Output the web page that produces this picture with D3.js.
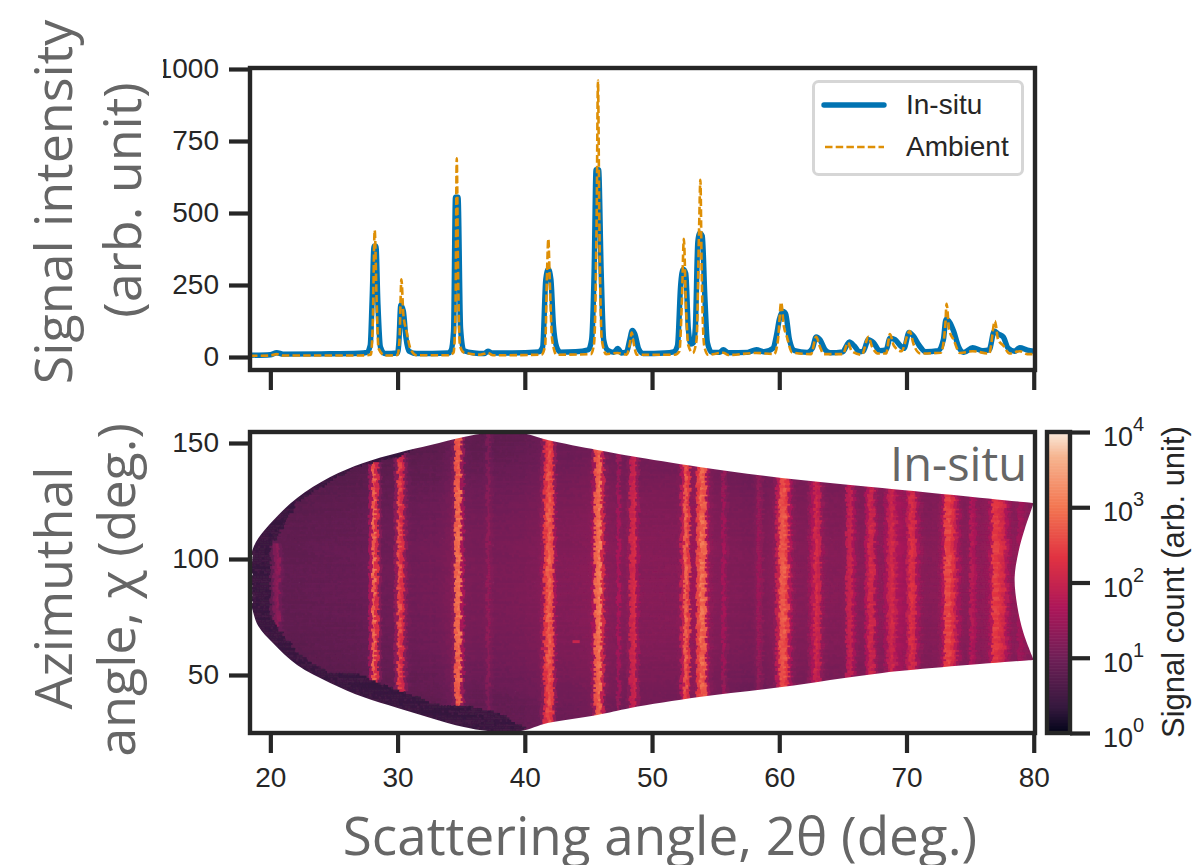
<!DOCTYPE html>
<html>
<head>
<meta charset="utf-8">
<style>
  html, body { margin: 0; padding: 0; background: #fff; }
  svg { display: block; }
  .tick text { font-family: "Liberation Sans", Arial, sans-serif; fill: #262626; }
</style>
<script src="https://cdn.jsdelivr.net/npm/d3@7"></script>
</head>
<body>
<div id="chart"></div>
<script>
// In-situ pattern
var insituX = [18.4,20,20.5,21,24,27,27.6,27.85,28,28.15,28.3,28.45,28.65,29,30,30.1,30.25,30.45,30.65,30.9,31.5,34,34.2,34.4,34.55,34.75,34.95,35.2,36,36.8,37.1,37.4,39,41.1,41.4,41.65,41.85,42.05,42.25,42.5,42.8,44,45,45.25,45.45,45.6,45.8,46,46.2,46.5,47,47.3,47.6,48,48.25,48.45,48.65,48.95,49.3,51,51.7,52,52.25,52.45,52.65,52.85,53.05,53.25,53.4,53.6,53.75,53.95,54.15,54.35,54.7,55.3,55.6,56,57.5,58.2,58.8,59.5,59.8,60,60.3,60.5,60.8,61.2,62.2,62.6,62.9,63.2,63.6,64,65,65.3,65.5,65.9,66.3,66.6,67,67.4,67.9,68.4,68.7,69.1,69.5,69.8,70.2,70.5,71,71.5,72.5,72.9,73.1,73.4,73.7,74.1,74.5,75.2,76,76.5,76.9,77.2,77.6,78,78.5,78.9,79.5,80];
var insituY = [6,8,15,10,11,13,16,40,200,385,385,190,35,12,14,50,180,160,70,20,12,14,22,90,555,555,100,22,14,12,20,14,14,18,35,270,305,270,110,35,17,18,25,60,300,650,650,300,60,24,16,30,14,18,60,92,80,28,12,14,18,40,250,305,290,100,45,50,100,400,430,420,210,50,16,16,25,15,16,25,18,30,80,130,158,150,60,22,16,30,70,60,25,15,18,40,52,38,18,20,60,50,22,25,65,60,40,30,85,75,40,18,22,60,130,120,90,35,16,32,22,25,90,80,70,30,20,32,24,20];

// Ambient pattern
var ambientX = [18.4,20,20.5,21,27,27.9,28.05,28.2,28.35,28.5,29,30,30.15,30.3,30.45,30.7,31,31.5,34,34.4,34.55,34.65,34.75,34.9,35.2,36.5,37.1,37.5,41.3,41.6,41.75,41.85,41.95,42.15,42.5,45.2,45.45,45.65,45.75,45.85,46.05,46.4,47.3,48,48.25,48.4,48.55,48.8,51.8,52.15,52.35,52.5,52.65,52.85,53.2,53.5,53.7,53.8,53.9,54.1,54.4,55.6,56,58.2,59.6,59.9,60.15,60.35,60.6,61,62.5,62.9,63.2,63.5,65,65.4,65.7,66.5,67,67.3,67.8,68.4,68.7,69,69.6,70.25,70.55,71.1,72.7,73.05,73.15,73.35,73.7,74.2,75.2,76.5,76.95,77.2,77.6,78.1,78.9,79.5,80];
var ambientY = [4,5,10,5,5,8,120,440,200,30,5,7,60,270,150,90,30,6,6,15,160,690,300,40,16,8,14,6,8,40,300,410,280,60,8,10,50,500,960,500,60,10,14,8,45,85,50,8,8,20,200,410,200,40,14,60,450,615,300,40,8,15,7,14,10,60,190,110,70,16,10,70,35,10,10,50,20,8,70,35,12,12,80,40,20,90,45,12,15,110,185,95,60,14,20,12,125,60,40,12,20,10,10];

// Heatmap columns: log10 signal count per 0.25 deg bin, starting at 18.5 deg
var colStart = 18.5;
var colStep = 0.25;
var colLog = [
  .55,.55,
  .55,.55,.6,.6,
  .7,1.05,1.2,.85,
  .72,.72,.72,.72,
  .72,.73,.72,.73,
  .74,.74,.75,.74,
  .75,.76,.75,.76,
  .77,.76,.78,.77,
  .78,.79,.78,.8,
  .8,.82,.84,1.5,
  2.75,2.1,1.1,.85,
  .84,.85,.86,1.25,
  2.45,2.1,1.2,.95,
  .88,.88,.88,.9,
  .9,.9,.92,.9,
  .92,.94,.96,1.0,
  1.02,1.2,2.75,2.8,
  1.5,1.0,.98,.97,
  .96,.96,.96,1.0,
  1.25,1.05,.98,.97,
  .98,.98,.98,.98,
  1,1,1,1,
  1.02,1.03,1.04,1.05,
  1.08,1.3,2.3,2.7,
  2.45,1.45,1.1,1.08,
  1.08,1.08,1.08,1.1,
  1.1,1.1,1.12,1.12,
  1.15,1.5,2.75,2.9,
  2.0,1.25,1.15,1.12,
  1.12,1.5,1.15,1.1,
  1.25,1.95,2.05,1.4,
  1.12,1.12,1.12,1.12,
  1.12,1.12,1.12,1.12,
  1.12,1.12,1.12,1.12,
  1.18,1.8,2.65,2.3,
  1.3,1.35,2.4,2.8,
  2.65,1.6,1.2,1.12,
  1.1,1.1,1.45,1.15,
  1.05,1.05,1.05,1.05,
  1.02,1.02,1.02,1.02,
  1.1,1.35,1.2,1.05,
  1.08,1.1,1.2,1.8,
  2.55,2.6,2.3,1.6,
  1.2,1.12,1.1,1.1,
  1.1,1.3,1.6,2.05,
  1.85,1.3,1.15,1.1,
  1.1,1.1,1.1,1.1,
  1.15,1.75,1.9,1.5,
  1.2,1.12,1.15,1.6,
  2.0,1.9,1.4,1.2,
  1.2,1.45,1.85,2.0,
  1.75,1.5,1.45,1.4,
  1.75,2.15,2.0,1.5,
  1.25,1.15,1.12,1.12,
  1.15,1.15,1.25,1.6,
  2.4,2.4,2.15,1.8,
  1.45,1.2,1.15,1.2,
  1.65,1.5,1.25,1.2,
  1.25,1.3,1.6,2.3,
  2.3,2.1,2.0,1.6,
  1.35,1.2,1.2,1.45,
  1.4,1.25,1.2,1.2,
  1.2
];

// Heatmap rows: how the signal drops away from the middle of the chi range
var rowChi = [25,35,45,55,65,75,85,95,105,115,125,135,145,155];
var rowLog = [-.12,-.12,-.04,.03,.08,.11,.13,.13,.11,.08,.03,-.04,-.12,-.17];

// The faint line near 20.4 deg only shows over part of the chi range
var faintLineBins = [20.25,20.5,20.75];
var faintLineChi = [68,106];
var faintLineOff = 0.74;

// Hand-typed grain standing in for the detector noise, which can't be read
// cell by cell from the picture. It is a texture, not measured data.
var speckle = [.04,-.07,.02,.09,-.03,-.08,.06,.01,-.05,.08,-.02,.03,-.09,.05,.0,-.06,.07,-.01,.04,-.04,.09,-.07,.02,-.03,.06,-.08,.03,.07,-.05,.01,-.09,.05,-.02,.08,-.06,.0,.04,-.04,.07,-.08,.02,.09,-.03,-.05,.06,-.01,.03,-.07,.08,-.02,.05,-.09,.01,.06,-.04,.03,-.06,.09,-.01,.02,-.08];

// Outline of the detector coverage
var edgeX = [18.4,18.6,19.06,20.2,22.1,24.7,27.3,30,32.6,35.2,37.1,39.7,41.8,45.7,48.3,53.7,60.2,68.1,80];
var edgeUpper = [98,104,109,116.5,126.3,135.3,141.4,145.7,149.1,152.6,154.3,154.3,151.3,147,144.4,139.7,134.9,130.6,124.1];
var edgeLower = [84,78,71,63.8,54.3,46.6,40.5,35.8,31.5,27.6,25.9,25.9,29.3,32.8,35.8,40.5,44.8,50.9,56.5];
var notchX = [80,79.3,78.8,78.5,78.7,79.2,80];
var notchChi = [124.1,113,103,92,80,68,56.5];

// Dark shadow along the left and lower edge of the coverage
var shadowX = [18.4,19.95,20,22.1,24.7,26.5,30,33.1,35.2,37.9,40,41,80];
var shadowLow = [160,160,75,59.5,50,50.9,43.5,37,37,33.6,27,0,0];
var shadowHigh = [0,0,104,124,132.8,139,143.5,152,160,160,160,160,160];
var shadowLevel = 0.42;

// Small bright spots in the heatmap
var spotX = [43.75,41.25];
var spotChi = [64,61];
var spotLog = [2.0,1.9];

// Seaborn "rocket" colours, as colorbar fractions
var rocketAt = [0,1/12,3/12,5/12,7/12,9/12,11/12,1];
var rocketColors = ["#03051a","#35193e","#701f57","#ad1759","#e13342","#f37651","#f6b48f","#faebdd"];

// Tick labels
var xTicks = [20,30,40,50,60,70,80];
var intensityTicks = [0,250,500,750,1000];
var chiTicks = [50,100,150];
var colorbarExponents = [0,1,2,3,4];

var width = 1194;
var height = 865;
var ink = "#262626";
var titleGray = "#666666";
var titleFont = '"Open Sans", sans-serif';
var tickFont = '"Liberation Sans", Arial, sans-serif';

var svg = d3.select("#chart").append("svg")
  .attr("width", width)
  .attr("height", height);

var defs = svg.append("defs");

var x = d3.scaleLinear().domain([18.4, 80.1]).range([250, 1035]);
var yTop = d3.scaleLinear().domain([0, 1000]).range([357, 69]);
var yChi = d3.scaleLinear().domain([100, 150]).range([559, 443]);
var topBox = { y0: 68, y1: 370 };
var heatBox = { y0: 432, y1: 733 };

var colorFrac = d3.scaleLinear().domain([0, 4]).range([0, 1]).clamp(true);
var rocket = d3.scaleLinear().domain(rocketAt).range(rocketColors).interpolate(d3.interpolateRgb);
function logColor(v) { return rocket(colorFrac(v)); }

// ---- top panel ----
defs.append("clipPath").attr("id", "topClip").append("rect")
  .attr("x", x.range()[0]).attr("y", topBox.y0)
  .attr("width", x.range()[1] - x.range()[0]).attr("height", topBox.y1 - topBox.y0);

var line = d3.line()
  .curve(d3.curveMonotoneX)
  .x(function(d) { return x(d[0]); })
  .y(function(d) { return yTop(d[1]); });

var topLines = svg.append("g").attr("clip-path", "url(#topClip)");

topLines.append("path")
  .attr("d", line(d3.zip(insituX, insituY)))
  .attr("fill", "none")
  .attr("stroke", "#0173b2")
  .attr("stroke-width", 5.4)
  .attr("stroke-linejoin", "round");

topLines.append("path")
  .attr("d", line(d3.zip(ambientX, ambientY)))
  .attr("fill", "none")
  .attr("stroke", "#de8f05")
  .attr("stroke-width", 2.6)
  .attr("stroke-dasharray", "7.5,3.2");

// ---- heatmap ----
var upperAt = d3.scaleLinear().domain(edgeX).range(edgeUpper);
var lowerAt = d3.scaleLinear().domain(edgeX).range(edgeLower);
var shadowLowAt = d3.scaleLinear().domain(shadowX).range(shadowLow);
var shadowHighAt = d3.scaleLinear().domain(shadowX).range(shadowHigh);
var rowGain = d3.scaleLinear().domain(rowChi).range(rowLog);

// outline as one closed path: along the top, down the notch, back along the bottom
var edgeLine = d3.line()
  .curve(d3.curveCatmullRom)
  .x(function(d) { return x(d[0]); })
  .y(function(d) { return yChi(d[1]); });

defs.append("clipPath").attr("id", "heatClip").append("path")
  .attr("d", edgeLine(d3.zip(edgeX, edgeUpper))
    + edgeLine(d3.zip(notchX, notchChi)).replace("M", "L")
    + edgeLine(d3.zip(edgeX, edgeLower).reverse()).replace("M", "L") + "Z");

defs.append("filter").attr("id", "soften")
  .attr("x", "-2%").attr("y", "-2%").attr("width", "104%").attr("height", "104%")
  .append("feGaussianBlur").attr("stdDeviation", "0.55 0.3");

var rows = d3.range(25, 155, 1);
var cells = [];
colLog.forEach(function(level, c) {
  var cx = colStart + c * colStep;
  var mid = cx + colStep / 2;
  rows.forEach(function(chi, r) {
    if (chi + 3 < lowerAt(mid) || chi - 3 > upperAt(mid)) return;
    // shift each row's walk through the grain list so no diagonal weave shows
    var rowShift = Math.round((speckle[r % speckle.length] + 0.09) * 300);
    var idx = (c * 13 + rowShift) % speckle.length;
    var grain = speckle[idx];
    var nudge = speckle[(idx + 11) % speckle.length];
    var colLevel = level;
    if (faintLineBins.indexOf(cx) >= 0 && (chi < faintLineChi[0] || chi > faintLineChi[1])) {
      colLevel = faintLineOff;
    }
    var v;
    if (chi < shadowLowAt(mid) || chi > shadowHighAt(mid)) {
      v = shadowLevel + grain;
    } else {
      v = colLevel + rowGain(chi) + grain * (0.45 + Math.max(0, colLevel - 1.1) * 0.9);
    }
    // the nudge gives the bands a ragged edge
    cells.push({ x: cx + nudge * 1.3, chi: chi, v: v });
  });
});
spotX.forEach(function(sx, i) {
  cells.push({ x: sx, chi: spotChi[i], v: spotLog[i] });
});

svg.append("g")
  .attr("clip-path", "url(#heatClip)")
  .append("g")
  .attr("filter", "url(#soften)")
  .selectAll("rect")
  .data(cells)
  .enter()
  .append("rect")
  .attr("x", function(d) { return x(d.x); })
  .attr("y", function(d) { return yChi(d.chi + 1); })
  .attr("width", x(colStart + colStep) - x(colStart) + 4)
  .attr("height", yChi(0) - yChi(1) + 0.6)
  .attr("fill", function(d) { return logColor(d.v); });

// ---- axes ----
function styleAxis(g) {
  g.select(".domain").remove();
  g.selectAll(".tick line").attr("stroke", ink).attr("stroke-width", 4.2);
  g.selectAll(".tick text").attr("font-size", 28).attr("fill", ink);
}

// the 1000 label runs off the reference's crop on its left side
defs.append("clipPath").attr("id", "labelCrop").append("rect")
  .attr("x", -87).attr("y", -20).attr("width", 87).attr("height", 400);

svg.append("g")
  .attr("transform", "translate(250,0)")
  .attr("clip-path", "url(#labelCrop)")
  .call(d3.axisLeft(yTop).tickValues(intensityTicks).tickSize(21).tickPadding(10).tickFormat(d3.format("d")))
  .call(styleAxis);

svg.append("g")
  .attr("transform", "translate(0," + topBox.y1 + ")")
  .call(d3.axisBottom(x).tickValues(xTicks).tickSize(20).tickFormat(""))
  .call(styleAxis);

svg.append("g")
  .attr("transform", "translate(250,0)")
  .call(d3.axisLeft(yChi).tickValues(chiTicks).tickSize(21).tickPadding(10))
  .call(styleAxis);

svg.append("g")
  .attr("transform", "translate(0," + heatBox.y1 + ")")
  .call(d3.axisBottom(x).tickValues(xTicks).tickSize(20).tickPadding(14))
  .call(styleAxis);

// frames go last so they sit over the marks
[topBox, heatBox].forEach(function(b) {
  svg.append("rect")
    .attr("x", x.range()[0]).attr("y", b.y0)
    .attr("width", x.range()[1] - x.range()[0]).attr("height", b.y1 - b.y0)
    .attr("fill", "none")
    .attr("stroke", ink)
    .attr("stroke-width", 4.4);
});

// ---- legend ----
var legend = svg.append("g");
legend.append("rect")
  .attr("x", 813.5).attr("y", 81.5).attr("width", 209).attr("height", 93).attr("rx", 5)
  .attr("fill", "#fff").attr("stroke", "#d6d6d6").attr("stroke-width", 3);
legend.append("line")
  .attr("x1", 824).attr("x2", 884).attr("y1", 105).attr("y2", 105)
  .attr("stroke", "#0173b2").attr("stroke-width", 5.4).attr("stroke-linecap", "round");
legend.append("line")
  .attr("x1", 825).attr("x2", 884).attr("y1", 147).attr("y2", 147)
  .attr("stroke", "#de8f05").attr("stroke-width", 2.6).attr("stroke-dasharray", "7.5,3.2");
legend.append("text").attr("x", 906).attr("y", 114).text("In-situ")
  .attr("font-family", tickFont).attr("font-size", 28).attr("fill", ink);
legend.append("text").attr("x", 906).attr("y", 156).text("Ambient")
  .attr("font-family", tickFont).attr("font-size", 28).attr("fill", ink);

// ---- colorbar ----
var barY = d3.scaleLinear().domain([0, 4]).range([733, 432]);
var barLevels = d3.range(0, 4, 0.02);
svg.append("g").selectAll("rect")
  .data(barLevels)
  .enter()
  .append("rect")
  .attr("x", 1047)
  .attr("y", function(d) { return barY(d + 0.02); })
  .attr("width", 23)
  .attr("height", barY(0) - barY(0.02) + 0.6)
  .attr("fill", logColor);

svg.append("rect")
  .attr("x", 1047).attr("y", 432).attr("width", 23).attr("height", 301)
  .attr("fill", "none").attr("stroke", ink).attr("stroke-width", 4.4);

var barAxis = svg.append("g").attr("transform", "translate(1070,0)")
  .call(d3.axisRight(barY).tickValues(colorbarExponents).tickSize(20).tickFormat(""));
barAxis.call(styleAxis);

var barLabels = svg.append("g").selectAll("g")
  .data(colorbarExponents)
  .enter()
  .append("text")
  .attr("x", 1103)
  .attr("y", function(d) { return barY(d) + 14; })
  .attr("font-family", tickFont)
  .attr("font-size", 27)
  .attr("fill", ink);
barLabels.append("tspan").text("10");
barLabels.append("tspan")
  .attr("dy", -15)
  .attr("font-size", 20)
  .text(function(d) { return d; });

// ---- titles ----
function rotatedTitle(cx, cy, label, size, font, fill) {
  svg.append("text")
    .attr("transform", "translate(" + cx + "," + cy + ") rotate(-90)")
    .attr("text-anchor", "middle")
    .attr("font-family", font)
    .attr("font-size", size)
    .attr("fill", fill)
    .text(label);
}

rotatedTitle(72, 202, "Signal intensity", 52, titleFont, titleGray);
rotatedTitle(141, 200, "(arb. unit)", 52, titleFont, titleGray);
rotatedTitle(72, 588, "Azimuthal", 52, titleFont, titleGray);
rotatedTitle(135, 590, "angle, χ (deg.)", 52, titleFont, titleGray);
rotatedTitle(1184, 582, "Signal count (arb. unit)", 31, tickFont, ink);

// the reference's own crop cuts this title's descenders at the bottom edge
svg.append("text")
  .attr("x", 660).attr("y", 855)
  .attr("text-anchor", "middle")
  .attr("font-family", titleFont)
  .attr("font-size", 53)
  .attr("fill", titleGray)
  .text("Scattering angle, 2θ (deg.)");

svg.append("text")
  .attr("x", 1027).attr("y", 481)
  .attr("text-anchor", "end")
  .attr("font-family", titleFont)
  .attr("font-size", 47)
  .attr("fill", titleGray)
  .text("In-situ");
</script>
</body>
</html>
